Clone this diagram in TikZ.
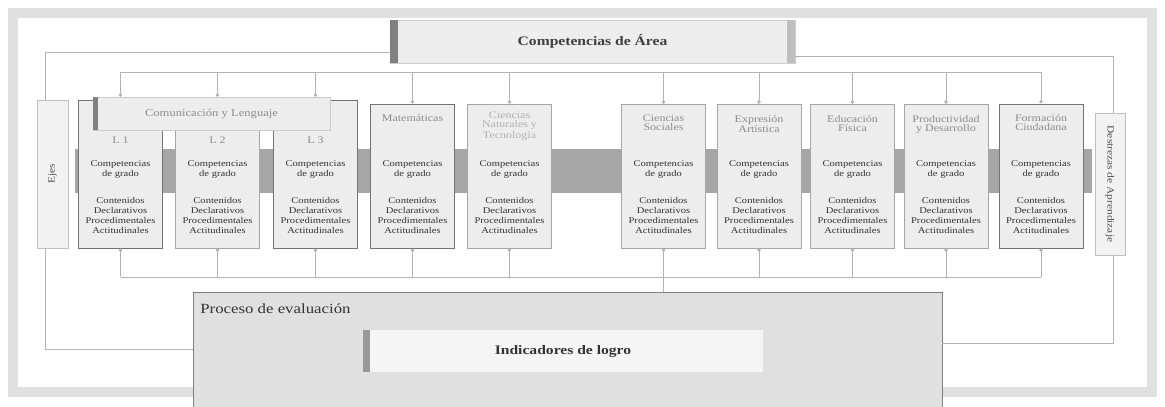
\documentclass[tikz,border=0pt]{standalone}
\usepackage{fontspec}
\setmainfont[FakeStretch=1.2]{Liberation Serif}
\usepackage{graphicx}
\usetikzlibrary{arrows.meta}
\newcommand{\cuerpo}{Competencias\\de grado\\[17pt]Contenidos\\Declarativos\\Procedimentales\\Actitudinales}

\begin{document}
\begin{tikzpicture}[x=1pt, y=-1pt,
area/.style = {rectangle, draw=black!35, fill=black!7, minimum width=84, minimum height=144, inner sep=0},
oscura/.style = {draw=black!55, line width=1},
titulo/.style = {anchor=north, align=center, text=black!45, font=\fontsize{10}{9}\selectfont},
cuerpotxt/.style = {anchor=north, align=center, text=black!80, font=\fontsize{8.8}{10}\selectfont},
cabecera/.style = {rectangle, fill=black!7, draw=black!20, inner sep=0},
lateral/.style = {rectangle, draw=black!25, fill=black!5, inner sep=0, text=black!70, font=\fontsize{9.5}{10}\selectfont},
linea/.style = {draw=black!30, line width=0.8},
marco/.style = {draw=black!12, line width=10}]
\useasboundingbox (0,0) rectangle (1165,407);
\draw[marco] (13,13) rectangle (1152,392);
\fill[black!35] (75,149) rectangle (1092,193);

% areas
\node[area, oscura, minimum height=148] at (120.5,174) (l1) {};
\node[area, minimum height=148] at (217.5,174) (l2) {};
\node[area, oscura, minimum height=148] at (315.5,174) (l3) {};
\node[area, oscura] at (412.5,176) (mat) {};
\node[area] at (509.5,176) (cn) {};
\node[area] at (663.5,176) (cs) {};
\node[area] at (759,176) (ea) {};
\node[area] at (852.5,176) (ef) {};
\node[area] at (946,176) (pd) {};
\node[area, oscura] at (1041,176) (fc) {};

\node[lateral, minimum width=31, minimum height=148] at (52.5,174) (ejes) {\rotatebox{90}{Ejes}};
\node[lateral, minimum width=30, minimum height=142] at (1110,184) (destr) {\rotatebox{-90}{Destrezas de Aprendizaje}};

\node[cabecera, minimum width=237, minimum height=33, text=black!45, font=\fontsize{10.5}{11}\selectfont] at (211.5,113.5) (com) {Comunicación y Lenguaje};
\fill[black!50] (com.north west) rectangle ([xshift=5pt]com.south west);

\node[cabecera, minimum width=405, minimum height=43, text=black!75, font=\fontsize{13}{14}\selectfont\bfseries] at (592.5,41.5) (comp) {Competencias de Área};
\fill[black!50] (comp.north west) rectangle ([xshift=8pt]comp.south west);
\fill[black!25] ([xshift=-8pt]comp.north east) rectangle (comp.south east);

% titulos
\node[titulo] at (l1 |- 0,133) {L 1};
\node[titulo] at (l2 |- 0,133) {L 2};
\node[titulo] at (l3 |- 0,133) {L 3};
\node[titulo] at ([yshift=-8pt]mat.north) {Matemáticas};
\node[titulo, text=black!30] at ([yshift=-5pt]cn.north) {Ciencias\\Naturales y\\Tecnología};
\node[titulo] at ([yshift=-8pt]cs.north) {Ciencias\\Sociales};
\node[titulo] at ([yshift=-8pt]ea.north) {Expresión\\Artística};
\node[titulo] at ([yshift=-8pt]ef.north) {Educación\\Física};
\node[titulo] at ([yshift=-8pt]pd.north) {Productividad\\y Desarrollo};
\node[titulo] at ([yshift=-8pt]fc.north) {Formación\\Ciudadana};

\node[cuerpotxt] at (l1 |- 0,157) {\cuerpo};
\node[cuerpotxt] at (l2 |- 0,157) {\cuerpo};
\node[cuerpotxt] at (l3 |- 0,157) {\cuerpo};
\node[cuerpotxt] at (mat |- 0,157) {\cuerpo};
\node[cuerpotxt] at (cn |- 0,157) {\cuerpo};
\node[cuerpotxt] at (cs |- 0,157) {\cuerpo};
\node[cuerpotxt] at (ea |- 0,157) {\cuerpo};
\node[cuerpotxt] at (ef |- 0,157) {\cuerpo};
\node[cuerpotxt] at (pd |- 0,157) {\cuerpo};
\node[cuerpotxt] at (fc |- 0,157) {\cuerpo};

% evaluacion
\node[rectangle, draw=black!50, fill=black!12, minimum width=749, minimum height=115, inner sep=0] at (567.5,349.5) (proc) {};
\node[anchor=north west, text=black!80, font=\fontsize{14}{15}\selectfont] at ([xshift=4pt,yshift=-8pt]proc.north west) {Proceso de evaluación};
\node[cabecera, fill=black!4, draw=none, minimum width=400, minimum height=42, text=black!80, font=\fontsize{13}{14}\selectfont\bfseries] at (563,351) (ind) {Indicadores de logro};
\fill[black!40] (ind.north west) rectangle ([xshift=7pt]ind.south west);

% conexiones
\coordinate (bt1) at (120.5,72);
\coordinate (bt2) at (1041,72);
\draw[linea] (bt1) -- (bt2);
\draw[linea, -{Circle[length=3.5pt]}] (l1.north |- bt1) -- (l1.north |- com.north);
\draw[linea, -{Circle[length=3.5pt]}] (l2.north |- bt1) -- (l2.north |- com.north);
\draw[linea, -{Circle[length=3.5pt]}] (l3.north |- bt1) -- (l3.north |- com.north);
\draw[linea, -{Circle[length=3.5pt]}] (mat.north |- bt1) -- (mat.north);
\draw[linea, -{Circle[length=3.5pt]}] (cn.north |- bt1) -- (cn.north);
\draw[linea, -{Circle[length=3.5pt]}] (cs.north |- bt1) -- (cs.north);
\draw[linea, -{Circle[length=3.5pt]}] (ea.north |- bt1) -- (ea.north);
\draw[linea, -{Circle[length=3.5pt]}] (ef.north |- bt1) -- (ef.north);
\draw[linea, -{Circle[length=3.5pt]}] (pd.north |- bt1) -- (pd.north);
\draw[linea, -{Circle[length=3.5pt]}] (fc.north |- bt1) -- (fc.north);

\coordinate (bb1) at (120.5,277);
\coordinate (bb2) at (1041,277);
\draw[linea] (bb1) -- (bb2);
\draw[linea, {Circle[length=3.5pt]}-] (l1.south) -- (l1.south |- bb1);
\draw[linea, {Circle[length=3.5pt]}-] (l2.south) -- (l2.south |- bb1);
\draw[linea, {Circle[length=3.5pt]}-] (l3.south) -- (l3.south |- bb1);
\draw[linea, {Circle[length=3.5pt]}-] (mat.south) -- (mat.south |- bb1);
\draw[linea, {Circle[length=3.5pt]}-] (cn.south) -- (cn.south |- bb1);
\draw[linea, {Circle[length=3.5pt]}-] (cs.south) -- (cs.south |- bb1);
\draw[linea, {Circle[length=3.5pt]}-] (ea.south) -- (ea.south |- bb1);
\draw[linea, {Circle[length=3.5pt]}-] (ef.south) -- (ef.south |- bb1);
\draw[linea, {Circle[length=3.5pt]}-] (pd.south) -- (pd.south |- bb1);
\draw[linea, {Circle[length=3.5pt]}-] (fc.south) -- (fc.south |- bb1);
\draw[linea] (cs.south |- bb1) -- (cs.south |- proc.north);

\draw[linea] ([yshift=-11pt]comp.west) -| ([xshift=-7pt]ejes.north);
\draw[linea] ([yshift=-15pt]comp.east) -| ([xshift=3pt]destr.north);
\draw[linea] ([xshift=-7pt]ejes.south) |- (proc.west);
\draw[linea] ([xshift=3pt]destr.south) |- ([yshift=6pt]proc.east);
\end{tikzpicture}
\end{document}
